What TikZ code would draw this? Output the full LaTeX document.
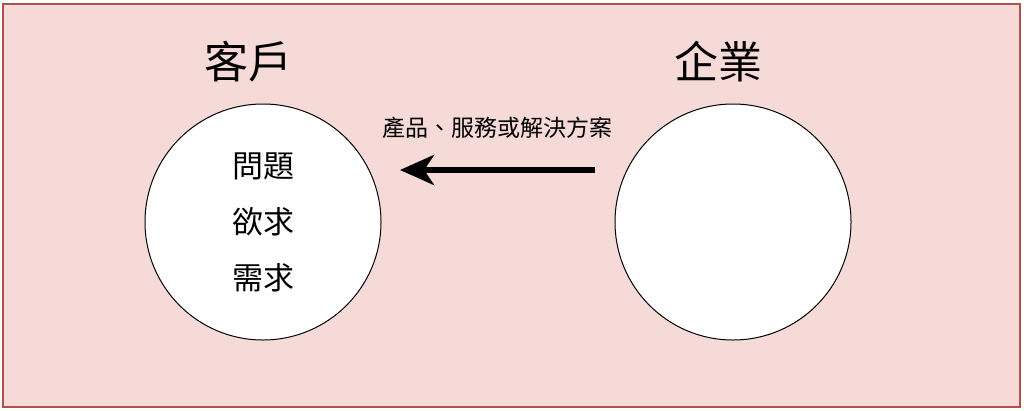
\documentclass[tikz,border=0pt]{standalone}
\usepackage{fontspec}
\setmainfont{Noto Sans CJK TC}
\usetikzlibrary{arrows.meta}
\definecolor{bgfill}{RGB}{245,218,215}
\definecolor{bgline}{RGB}{178,80,74}
\tikzset{
  px/.style={x=1pt,y=-1pt},
  circ/.style={circle,draw=black,line width=1pt,fill=white,minimum size=236pt,inner sep=0pt},
  title/.style={font=\fontsize{44}{48}\selectfont,inner sep=0pt},
  inner/.style={font=\fontsize{31}{34}\selectfont,inner sep=0pt},
  lab/.style={font=\fontsize{23}{26}\selectfont,inner sep=0pt},
}
\begin{document}
\begin{tikzpicture}[px]
\useasboundingbox (0,0) rectangle (1024,410);
\fill[white] (0,0) rectangle (1024,410);
\draw[fill=bgfill,draw=bgline,line width=2.2pt] (3,4) rectangle (1020,407);
\node[circ] (client) at (263,222) {};
\node[circ] (firm) at (733,222) {};
\node[title] (tclient) at (248,62) {客戶};
\node[title] (tfirm) at (718,62) {企業};
\node[inner] (q1) at (263,166) {問題};
\node[inner] (q2) at (263,222) {欲求};
\node[inner] (q3) at (263,278) {需求};
\coordinate (astart) at (595,170);
\coordinate (aend) at (400,170);
\draw[line width=6pt,-{Stealth[length=34pt,width=30pt,inset=10pt]}] (astart) -- (aend);
\node[lab] (lbl) at (497,128) {產品、服務或解決方案};
\end{tikzpicture}
\end{document}
